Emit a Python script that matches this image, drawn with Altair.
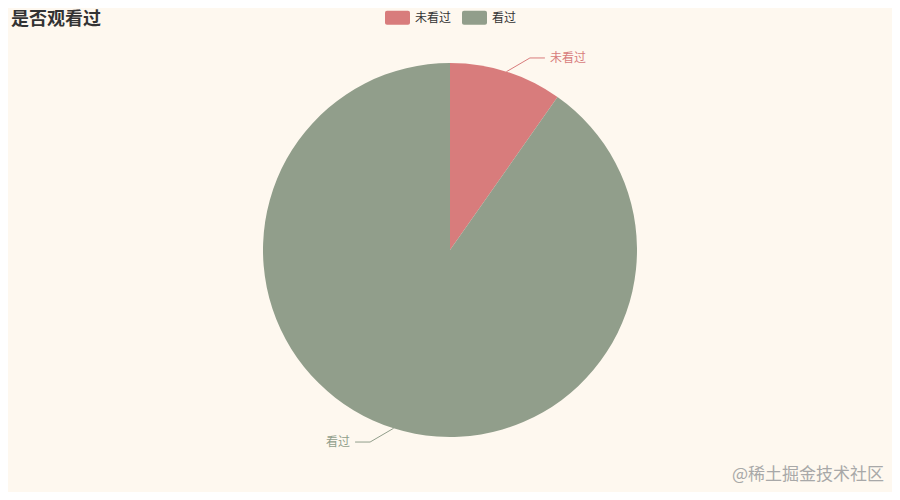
import altair as alt
import pandas as pd

# ---- data ----
categories = ["未看过", "看过"]
values = [39, 361]
colors = ["#d87c7c", "#919e8b"]
title_text = ["是否观看过"]
watermark_text = ["@稀土掘金技术社区"]

df = pd.DataFrame({"category": categories, "value": values,
                   "idx": list(range(len(categories)))})

W, H = 884, 484
CX, CY, R = 442, 242, 187
R2, DA, L2, GAP = 208, 0.088, 15, 5
FONT = "Noto Sans CJK SC"
BG = "#fef8ef"

legend_path = ("M-0.84,-0.56 H0.84 A0.16,0.16 0 0 1 1,-0.4 V0.4 "
               "A0.16,0.16 0 0 1 0.84,0.56 H-0.84 A0.16,0.16 0 0 1 -1,0.4 "
               "V-0.4 A0.16,0.16 0 0 1 -0.84,-0.56 Z")

cscale = alt.Scale(domain=categories, range=colors)

pie = alt.Chart(df).mark_arc(outerRadius=R, strokeWidth=0).encode(
    theta=alt.Theta("value:Q", stack=True),
    color=alt.Color(
        "category:N", scale=cscale,
        legend=alt.Legend(
            title=None, orient="none", legendX=377, legendY=-3,
            direction="horizontal", symbolType=legend_path, symbolSize=625,
            symbolStrokeWidth=0, symbolOpacity=1, labelFontSize=12,
            labelFont=FONT, labelColor="#333333", labelOffset=5,
            columnPadding=10, padding=0,
        ),
    ),
    order=alt.Order("idx:Q"),
    x=alt.value(CX),
    y=alt.value(CY),
)

geo = alt.Chart(df).transform_joinaggregate(
    total="sum(value)"
).transform_window(
    cum="sum(value)", sort=[alt.SortField("idx")], frame=[None, 0]
).transform_calculate(
    mid="(datum.cum - datum.value/2) / datum.total * 2 * PI",
).transform_calculate(
    x0=f"{CX} + {R} * sin(datum.mid)",
    y0=f"{CY} - {R} * cos(datum.mid)",
    x1=f"{CX} + {R2} * sin(datum.mid + {DA})",
    y1=f"{CY} - {R2} * cos(datum.mid + {DA})",
    side="sin(datum.mid) >= 0 ? 1 : -1",
).transform_calculate(
    x2=f"datum.x1 + datum.side * {L2}",
).transform_calculate(
    xt=f"datum.x2 + datum.side * {GAP}",
)

col_nolegend = alt.Color("category:N", scale=cscale, legend=None)

seg1 = geo.mark_rule(strokeWidth=1).encode(
    x=alt.X("x0:Q", scale=None), y=alt.Y("y0:Q", scale=None),
    x2="x1:Q", y2="y1:Q", color=col_nolegend,
)
seg2 = geo.mark_rule(strokeWidth=1).encode(
    x=alt.X("x1:Q", scale=None), y=alt.Y("y1:Q", scale=None),
    x2="x2:Q", y2="y1:Q", color=col_nolegend,
)
lab_right = geo.transform_filter("datum.side > 0").mark_text(
    align="left", baseline="middle", fontSize=12, font=FONT
).encode(
    x=alt.X("xt:Q", scale=None), y=alt.Y("y1:Q", scale=None),
    text="category:N", color=col_nolegend,
)
lab_left = geo.transform_filter("datum.side < 0").mark_text(
    align="right", baseline="middle", fontSize=12, font=FONT
).encode(
    x=alt.X("xt:Q", scale=None), y=alt.Y("y1:Q", scale=None),
    text="category:N", color=col_nolegend,
)

title = alt.Chart(pd.DataFrame({"t": title_text})).mark_text(
    align="left", baseline="top", fontSize=18, fontWeight="bold",
    font=FONT, color="#333333"
).encode(x=alt.value(3), y=alt.value(3), text="t:N")

wm = alt.Chart(pd.DataFrame({"t": watermark_text})).mark_text(
    align="right", baseline="bottom", fontSize=17, font=FONT,
    color="#a8a8a8"
).encode(x=alt.value(876), y=alt.value(476), text="t:N")

chart = alt.layer(pie, seg1, seg2, lab_right, lab_left, title, wm).properties(
    width=W, height=H, autosize=alt.AutoSizeParams(type="none"), padding=0,
    background=BG,
).configure_view(stroke=None)

chart.save("out.html", embed_options={"renderer": "svg", "actions": False})
